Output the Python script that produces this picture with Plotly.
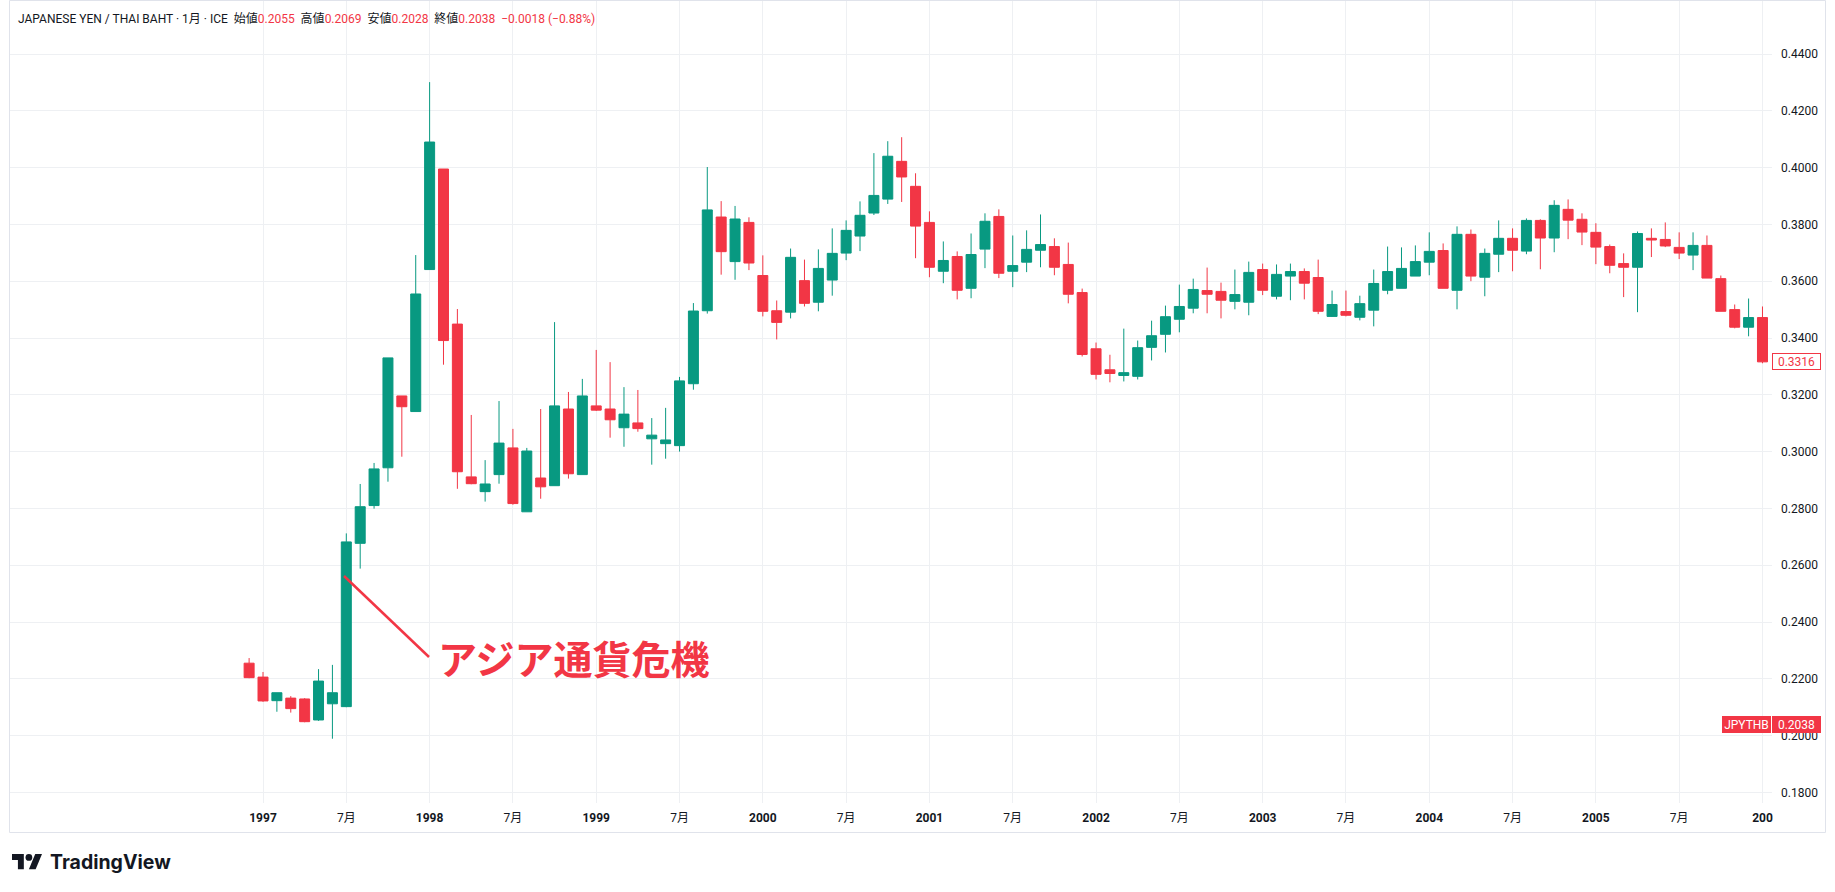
import plotly.graph_objects as go

# ---------------- data (monthly candles, Dec 1996 - Jan 2006) ----------------
months = [
    "1996-12",
    "1997-01", "1997-02", "1997-03", "1997-04", "1997-05", "1997-06",
    "1997-07", "1997-08", "1997-09", "1997-10", "1997-11", "1997-12",
    "1998-01", "1998-02", "1998-03", "1998-04", "1998-05", "1998-06",
    "1998-07", "1998-08", "1998-09", "1998-10", "1998-11", "1998-12",
    "1999-01", "1999-02", "1999-03", "1999-04", "1999-05", "1999-06",
    "1999-07", "1999-08", "1999-09", "1999-10", "1999-11", "1999-12",
    "2000-01", "2000-02", "2000-03", "2000-04", "2000-05", "2000-06",
    "2000-07", "2000-08", "2000-09", "2000-10", "2000-11", "2000-12",
    "2001-01", "2001-02", "2001-03", "2001-04", "2001-05", "2001-06",
    "2001-07", "2001-08", "2001-09", "2001-10", "2001-11", "2001-12",
    "2002-01", "2002-02", "2002-03", "2002-04", "2002-05", "2002-06",
    "2002-07", "2002-08", "2002-09", "2002-10", "2002-11", "2002-12",
    "2003-01", "2003-02", "2003-03", "2003-04", "2003-05", "2003-06",
    "2003-07", "2003-08", "2003-09", "2003-10", "2003-11", "2003-12",
    "2004-01", "2004-02", "2004-03", "2004-04", "2004-05", "2004-06",
    "2004-07", "2004-08", "2004-09", "2004-10", "2004-11", "2004-12",
    "2005-01", "2005-02", "2005-03", "2005-04", "2005-05", "2005-06",
    "2005-07", "2005-08", "2005-09", "2005-10", "2005-11", "2005-12",
    "2006-01",
]

opens = [
    0.2255,
    0.2206, 0.2123, 0.2132, 0.2129, 0.2055, 0.2112,
    0.2102, 0.2677, 0.2810, 0.2943, 0.3196, 0.3141,
    0.3641, 0.3995, 0.3449, 0.2911, 0.2859, 0.2919,
    0.3013, 0.2788, 0.2907, 0.2880, 0.3150, 0.2919,
    0.3161, 0.3150, 0.3084, 0.3101, 0.3045, 0.3028,
    0.3021, 0.3239, 0.3496, 0.3826, 0.3669, 0.3807,
    0.3620, 0.3496, 0.3491, 0.3602, 0.3526, 0.3604,
    0.3699, 0.3759, 0.3840, 0.3889, 0.4022, 0.3934,
    0.3807, 0.3635, 0.3687, 0.3575, 0.3713, 0.3828,
    0.3635, 0.3667, 0.3709, 0.3722, 0.3659, 0.3560,
    0.3362, 0.3288, 0.3268, 0.3265, 0.3367, 0.3413,
    0.3466, 0.3505, 0.3567, 0.3564, 0.3529, 0.3526,
    0.3641, 0.3547, 0.3618, 0.3634, 0.3613, 0.3476,
    0.3493, 0.3473, 0.3498, 0.3568, 0.3575, 0.3618,
    0.3667, 0.3708, 0.3568, 0.3765, 0.3614, 0.3695,
    0.3751, 0.3706, 0.3814, 0.3752, 0.3853, 0.3818,
    0.3772, 0.3722, 0.3662, 0.3649, 0.3751, 0.3747,
    0.3719, 0.3692, 0.3726, 0.3609, 0.3500, 0.3438,
    0.3472,
]

highs = [
    0.2273,
    0.2224, 0.2151, 0.2139, 0.2132, 0.2234, 0.2249,
    0.2712, 0.2886, 0.2960, 0.3330, 0.3196, 0.3692,
    0.4301, 0.3995, 0.3502, 0.3129, 0.2970, 0.3178,
    0.3080, 0.3013, 0.3150, 0.3456, 0.3210, 0.3256,
    0.3358, 0.3315, 0.3227, 0.3217, 0.3118, 0.3154,
    0.3263, 0.3523, 0.4002, 0.3882, 0.3865, 0.3825,
    0.3691, 0.3532, 0.3715, 0.3676, 0.3712, 0.3786,
    0.3814, 0.3881, 0.4051, 0.4093, 0.4107, 0.3980,
    0.3846, 0.3740, 0.3705, 0.3768, 0.3839, 0.3853,
    0.3761, 0.3779, 0.3835, 0.3751, 0.3736, 0.3574,
    0.3384, 0.3341, 0.3433, 0.3391, 0.3461, 0.3514,
    0.3588, 0.3609, 0.3648, 0.3595, 0.3641, 0.3669,
    0.3662, 0.3659, 0.3662, 0.3645, 0.3676, 0.3567,
    0.3567, 0.3549, 0.3641, 0.3722, 0.3719, 0.3726,
    0.3772, 0.3733, 0.3793, 0.3782, 0.3715, 0.3814,
    0.3786, 0.3821, 0.3818, 0.3885, 0.3888, 0.3839,
    0.3804, 0.3729, 0.3698, 0.3775, 0.3786, 0.3807,
    0.3772, 0.3772, 0.3761, 0.3620, 0.3518, 0.3539,
    0.3511,
]

lows = [
    0.2202,
    0.2119, 0.2084, 0.2081, 0.2047, 0.2052, 0.1989,
    0.2100, 0.2588, 0.2799, 0.2894, 0.2982, 0.3141,
    0.3641, 0.3306, 0.2869, 0.2885, 0.2824, 0.2887,
    0.2813, 0.2788, 0.2834, 0.2880, 0.2905, 0.2919,
    0.3143, 0.3049, 0.3017, 0.3070, 0.2954, 0.2975,
    0.3000, 0.3218, 0.3486, 0.3623, 0.3605, 0.3639,
    0.3476, 0.3395, 0.3469, 0.3511, 0.3494, 0.3549,
    0.3674, 0.3706, 0.3833, 0.3872, 0.3879, 0.3681,
    0.3614, 0.3593, 0.3536, 0.3540, 0.3646, 0.3611,
    0.3579, 0.3632, 0.3649, 0.3621, 0.3522, 0.3335,
    0.3254, 0.3244, 0.3247, 0.3254, 0.3321, 0.3349,
    0.3420, 0.3487, 0.3487, 0.3469, 0.3501, 0.3480,
    0.3551, 0.3536, 0.3533, 0.3536, 0.3484, 0.3474,
    0.3476, 0.3462, 0.3441, 0.3554, 0.3575, 0.3618,
    0.3621, 0.3575, 0.3501, 0.3600, 0.3547, 0.3632,
    0.3635, 0.3695, 0.3642, 0.3702, 0.3748, 0.3727,
    0.3660, 0.3628, 0.3544, 0.3491, 0.3685, 0.3720,
    0.3678, 0.3639, 0.3611, 0.3494, 0.3434, 0.3406,
    0.3311,
]

closes = [
    0.2204,
    0.2122, 0.2151, 0.2095, 0.2049, 0.2192, 0.2151,
    0.2682, 0.2806, 0.2939, 0.3330, 0.3158, 0.3555,
    0.4090, 0.3391, 0.2929, 0.2887, 0.2886, 0.3030,
    0.2817, 0.3002, 0.2876, 0.3161, 0.2922, 0.3196,
    0.3146, 0.3112, 0.3132, 0.3081, 0.3058, 0.3041,
    0.3249, 0.3495, 0.3851, 0.3704, 0.3819, 0.3664,
    0.3494, 0.3455, 0.3684, 0.3522, 0.3645, 0.3698,
    0.3779, 0.3832, 0.3902, 0.4040, 0.3967, 0.3794,
    0.3649, 0.3673, 0.3568, 0.3694, 0.3811, 0.3628,
    0.3655, 0.3712, 0.3729, 0.3649, 0.3554, 0.3342,
    0.3272, 0.3275, 0.3278, 0.3366, 0.3408, 0.3475,
    0.3511, 0.3571, 0.3554, 0.3533, 0.3553, 0.3631,
    0.3568, 0.3624, 0.3634, 0.3593, 0.3494, 0.3518,
    0.3480, 0.3521, 0.3592, 0.3634, 0.3645, 0.3669,
    0.3705, 0.3575, 0.3765, 0.3618, 0.3698, 0.3751,
    0.3709, 0.3814, 0.3752, 0.3867, 0.3815, 0.3773,
    0.3720, 0.3656, 0.3649, 0.3768, 0.3745, 0.3724,
    0.3699, 0.3726, 0.3611, 0.3494, 0.3438, 0.3472,
    0.3316,
]

price_ticks = [0.18, 0.20, 0.22, 0.24, 0.26, 0.28, 0.30, 0.32, 0.34, 0.36, 0.38, 0.40, 0.42, 0.44]

header_label = "JAPANESE YEN / THAI BAHT · 1月 · ICE"
ohlc_names = ["始値", "高値", "安値", "終値"]
ohlc_values = ["0.2055", "0.2069", "0.2028", "0.2038"]
change_text = "−0.0018 (−0.88%)"
last_close_label = "0.3316"
symbol_label = "JPYTHB"
symbol_price = "0.2038"
annotation_text = "アジア通貨危機"

# ---------------- layout geometry ----------------
W, H = 1835, 892
L, R, T, B = 9, 1772, 0, 803
UP, DOWN = "#089981", "#F23645"
TXT = "#131722"
GRID = "#EEF0F3"

idx = list(range(len(months)))


def px(x):
    return (x - L) / (R - L)


def py(y):
    return (B - y) / (B - T)


# x axis: index units, Jan 1997 (idx 1) at pixel 263, 13.884 px per month
ppm = 13.884
xmin = 1 - (263 - L) / ppm
xmax = xmin + (R - L) / ppm
# y axis: 0.44 at pixel 54, 2840 px per unit
ymin = 0.44 - (B - 54) / 2840
ymax = 0.44 + (54 - T) / 2840

tickvals, ticktext = [], []
for i, m in enumerate(months):
    y, mo = m.split("-")
    if mo == "01":
        tickvals.append(i)
        ticktext.append("<b>" + (y if y != "2006" else "200") + "</b>")
    elif mo == "07":
        tickvals.append(i)
        ticktext.append("7月")

fig = go.Figure()
fig.add_trace(go.Candlestick(
    x=idx, open=opens, high=highs, low=lows, close=closes,
    increasing=dict(line=dict(color=UP, width=1), fillcolor=UP),
    decreasing=dict(line=dict(color=DOWN, width=1), fillcolor=DOWN),
    whiskerwidth=0, hoverinfo="skip", showlegend=False,
))

font_main = "Roboto, 'Noto Sans CJK JP', sans-serif"

fig.update_layout(
    width=W, height=H,
    margin=dict(l=L, r=W - R, t=T, b=H - B),
    paper_bgcolor="white", plot_bgcolor="white",
    boxgap=0.28, boxgroupgap=0,
    showlegend=False,
    font=dict(family=font_main, size=12, color=TXT),
    xaxis=dict(
        range=[xmin, xmax], rangeslider=dict(visible=False),
        tickmode="array", tickvals=tickvals, ticktext=ticktext,
        showgrid=True, gridcolor=GRID, gridwidth=1,
        zeroline=False, showline=False, ticks="",
        tickfont=dict(size=12, color=TXT, family=font_main),
        ticklabelstandoff=6,
    ),
    yaxis=dict(
        range=[ymin, ymax], side="right",
        tickmode="array", tickvals=price_ticks,
        ticktext=["%.4f" % v for v in price_ticks],
        showgrid=True, gridcolor=GRID, gridwidth=1,
        zeroline=False, showline=False, ticks="",
        tickfont=dict(size=12, color=TXT, family=font_main),
        ticklabelstandoff=8,
    ),
)

shapes = []
# widget frame
shapes.append(dict(type="rect", xref="paper", yref="paper",
                   x0=px(9.5), x1=px(1825.5), y0=py(0.5), y1=py(832.5),
                   line=dict(color="#E0E3EB", width=1), fillcolor="rgba(0,0,0,0)", layer="above"))
# annotation pointer line
shapes.append(dict(type="line", xref="paper", yref="paper",
                   x0=px(344), y0=py(576), x1=px(429), y1=py(657),
                   line=dict(color=DOWN, width=2.5)))

# TradingView logo (36x28 viewBox)
s = 0.845
ox, oy = 12, 854 - 4 * s


def P(x, y):
    return "%.6f,%.6f" % (px(ox + x * s), py(oy + y * s))


logo1 = "M" + P(14, 22) + " L" + P(7, 22) + " L" + P(7, 11) + " L" + P(0, 11) + " L" + P(0, 4) + " L" + P(14, 4) + " Z"
logo2 = "M" + P(28, 22) + " L" + P(20, 22) + " L" + P(27.5, 4) + " L" + P(35.5, 4) + " Z"
shapes.append(dict(type="path", xref="paper", yref="paper", path=logo1,
                   fillcolor=TXT, line=dict(width=0)))
shapes.append(dict(type="path", xref="paper", yref="paper", path=logo2,
                   fillcolor=TXT, line=dict(width=0)))
shapes.append(dict(type="circle", xref="paper", yref="paper",
                   x0=px(ox + 16 * s), x1=px(ox + 24 * s), y0=py(oy + 4 * s), y1=py(oy + 12 * s),
                   fillcolor=TXT, line=dict(width=0)))
fig.update_layout(shapes=shapes)

sp = "\u00a0"
red = lambda t: '<span style="color:%s">%s</span>' % (DOWN, t)
header = header_label + sp + sp
header += (sp + sp).join(n + red(v) for n, v in zip(ohlc_names, ohlc_values))
header += sp + sp + red(change_text)

annotations = [
    dict(xref="paper", yref="paper", x=px(15.5), y=py(19), xanchor="left", yanchor="middle",
         text=header, showarrow=False, font=dict(size=12, color=TXT, family=font_main)),
    dict(xref="paper", yref="paper", x=px(436), y=py(657), xanchor="left", yanchor="middle",
         text="<b>" + annotation_text + "</b>", showarrow=False,
         font=dict(size=39, color=DOWN, family="'Noto Sans CJK JP', sans-serif")),
    dict(xref="paper", yref="y", x=px(1796.5), y=closes[-1], xanchor="center", yanchor="middle",
         text=last_close_label, showarrow=False, bgcolor="white", bordercolor=DOWN,
         borderwidth=1, borderpad=1, width=45, height=13,
         font=dict(size=12, color=DOWN, family=font_main)),
    dict(xref="paper", yref="y", x=px(1796.5), y=float(symbol_price), xanchor="center", yanchor="middle",
         text=symbol_price, showarrow=False, bgcolor=DOWN, bordercolor=DOWN,
         borderwidth=1, borderpad=1, width=45, height=13,
         font=dict(size=12, color="white", family=font_main)),
    dict(xref="paper", yref="y", x=px(1746.5), y=float(symbol_price), xanchor="center", yanchor="middle",
         text=symbol_label, showarrow=False, bgcolor=DOWN, bordercolor=DOWN,
         borderwidth=1, borderpad=1, width=45, height=13,
         font=dict(size=12, color="white", family=font_main)),
    dict(xref="paper", yref="paper", x=px(48), y=py(862), xanchor="left", yanchor="middle",
         text="<b>TradingView</b>", showarrow=False,
         font=dict(size=19.5, color=TXT, family="Inter, Roboto, sans-serif")),
]
fig.update_layout(annotations=annotations)

fig.write_html("out.html")
